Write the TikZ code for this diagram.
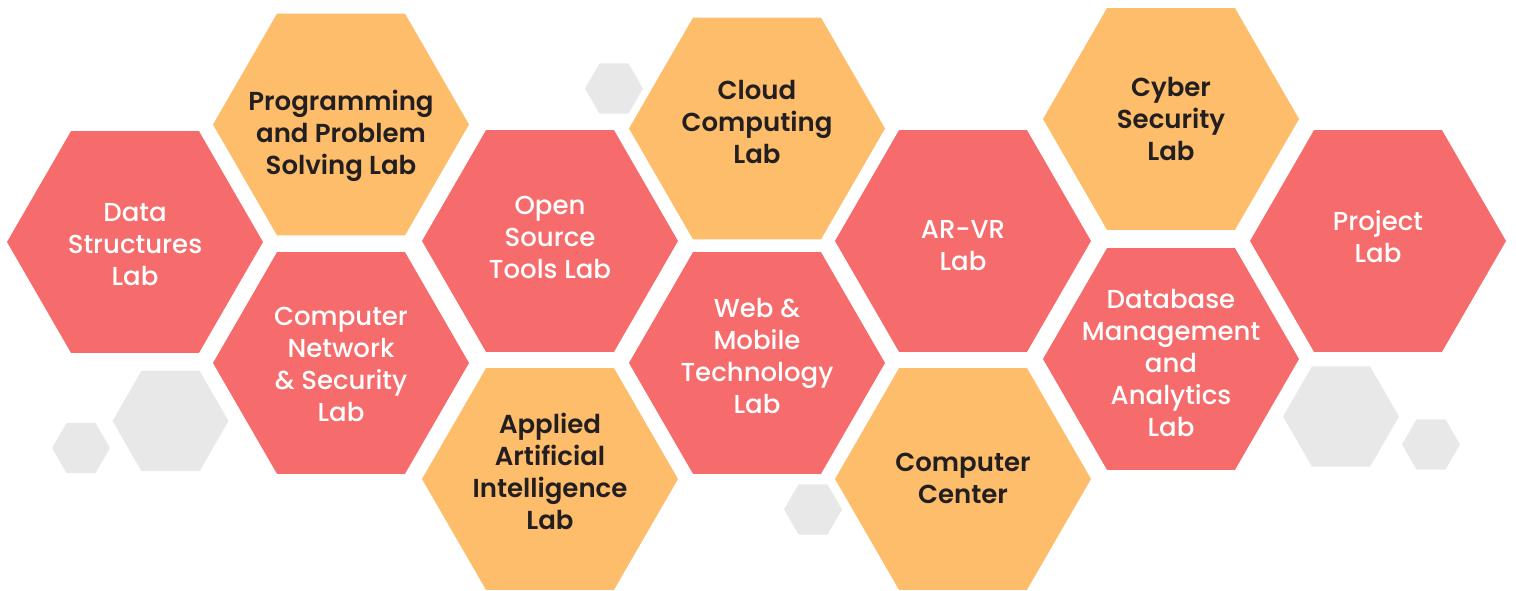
\documentclass[tikz,border=0pt]{standalone}
\usepackage{fontspec}
\setmainfont{Poppins}
\newfontfamily\medfont{Poppins Medium}
\newfontfamily\semifont{Poppins SemiBold}
\usetikzlibrary{shapes.geometric}

\definecolor{labred}{HTML}{F66C6C}
\definecolor{laborange}{HTML}{FDBD6A}
\definecolor{hexgray}{HTML}{E8E8E8}
\definecolor{labdark}{HTML}{231F20}

\begin{document}
\begin{tikzpicture}[x=1pt,y=-1pt,
    hex/.style={regular polygon,regular polygon sides=6,inner sep=0pt,minimum size=256pt},
    redhex/.style={hex,fill=labred},
    orangehex/.style={hex,fill=laborange},
    grayhex/.style={regular polygon,regular polygon sides=6,inner sep=0pt,fill=hexgray},
    whitelab/.style={align=center,text=white,font=\medfont\fontsize{26}{32}\selectfont},
    darklab/.style={align=center,text=labdark,font=\semifont\fontsize{26}{32}\selectfont}]

    \useasboundingbox (0,0) rectangle (1516,591);

    % small grey hexagons behind
    \node[grayhex,minimum size=58pt] (g1) at (614,88.5) {};
    \node[grayhex,minimum size=116pt] (g2) at (170.5,421) {};
    \node[grayhex,minimum size=58pt] (g3) at (81,448) {};
    \node[grayhex,minimum size=58pt] (g4) at (813,509.5) {};
    \node[grayhex,minimum size=116pt] (g5) at (1341,416.5) {};
    \node[grayhex,minimum size=58pt] (g6) at (1431,444.5) {};

    % lab hexagons
    \node[redhex] (ds) at (135,242) {};
    \node[orangehex] (pps) at (341,124.5) {};
    \node[redhex] (cns) at (341,363) {};
    \node[redhex] (ost) at (550,241) {};
    \node[orangehex] (aai) at (550,479) {};
    \node[orangehex] (cc) at (757,128.5) {};
    \node[redhex] (wmt) at (757,363) {};
    \node[redhex] (arvr) at (963,241) {};
    \node[orangehex] (ccen) at (963,479) {};
    \node[orangehex] (cs) at (1171,119) {};
    \node[redhex] (dma) at (1171,359) {};
    \node[redhex] (pl) at (1378,241) {};

    % labels
    \node[whitelab] (dst) at (135,245) {Data\\Structures\\Lab};
    \node[darklab] (ppst) at (341,136) {Programming\\and Problem\\Solving Lab};
    \node[whitelab] (cnst) at (341,364) {Computer\\Network\\\& Security\\Lab};
    \node[whitelab] (ostt) at (550,237) {Open\\Source\\Tools Lab};
    \node[darklab] (aait) at (550,471) {Applied\\Artificial\\Intelligence\\Lab};
    \node[darklab] (cct) at (757,122) {Cloud\\Computing\\Lab};
    \node[whitelab] (wmtt) at (757,356) {Web \&\\Mobile\\Technology\\Lab};
    \node[whitelab] (arvrt) at (963,246) {AR-VR\\Lab};
    \node[darklab] (ccent) at (963,478) {Computer\\Center};
    \node[darklab] (cst) at (1171,119) {Cyber\\Security\\Lab};
    \node[whitelab] (dmat) at (1171,363) {Database\\Management\\and\\Analytics\\Lab};
    \node[whitelab] (plt) at (1378,237) {Project\\Lab};

\end{tikzpicture}
\end{document}
